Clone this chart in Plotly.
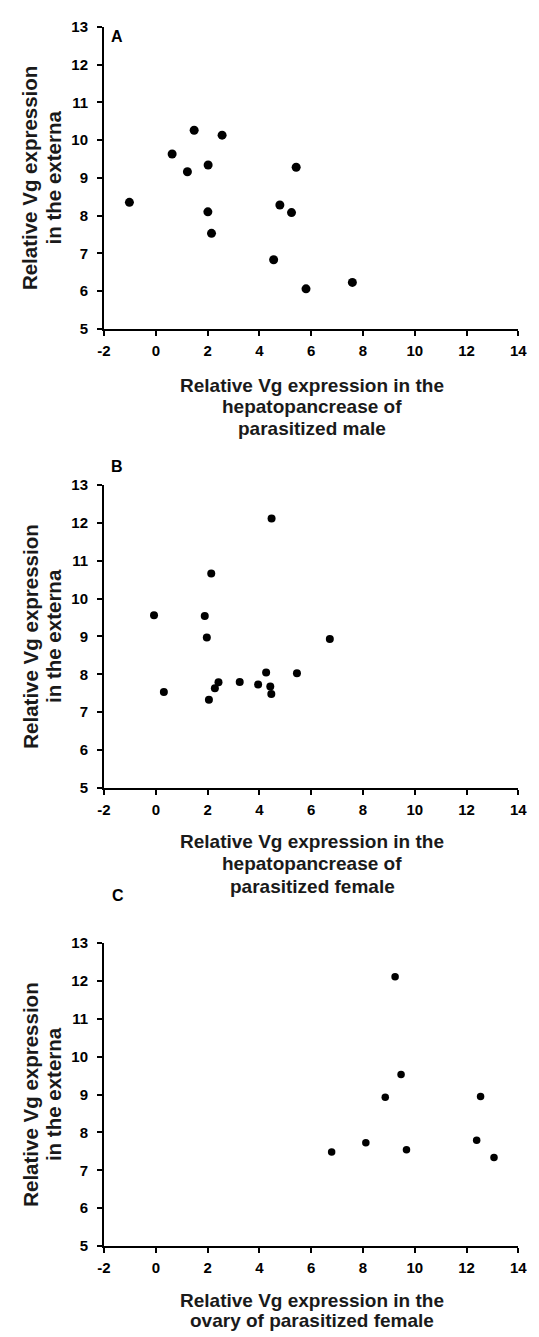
import plotly.graph_objects as go

# ---- data ----
a_hep_male = [-1.02, 0.63, 1.22, 1.48, 2.02, 2.56, 2.01, 2.15, 4.55, 4.79, 5.24, 5.42, 5.80, 7.59]
a_ext_male = [8.35, 9.63, 9.16, 10.26, 9.34, 10.13, 8.10, 7.53, 6.83, 8.28, 8.08, 9.28, 6.06, 6.23]

b_hep_female = [-0.07, 0.31, 1.89, 1.97, 2.14, 2.05, 2.28, 2.42, 3.24, 3.95, 4.26, 4.42, 4.47, 4.46, 5.45, 6.72]
b_ext_female = [9.56, 7.53, 9.54, 8.97, 10.66, 7.33, 7.63, 7.79, 7.80, 7.73, 8.05, 7.68, 12.11, 7.48, 8.03, 8.93]

c_ovary_female = [6.79, 8.11, 8.86, 9.24, 9.47, 9.68, 12.39, 12.54, 13.06]
c_ext_female = [7.48, 7.73, 8.93, 12.11, 9.53, 7.54, 7.79, 8.95, 7.34]

x_ticks = [-2, 0, 2, 4, 6, 8, 10, 12, 14]
x_tick_labels = ["-2", "0", "2", "4", "6", "8", "10", "12", "14"]
y_ticks = [5, 6, 7, 8, 9, 10, 11, 12, 13]
y_tick_labels = ["5", "6", "7", "8", "9", "10", "11", "12", "13"]

panel_letters = ["A", "B", "C"]
y_title_lines = ["Relative Vg expression", "in the externa"]
x_title_lines = [
    ["Relative Vg expression in the", "hepatopancrease of", "parasitized male"],
    ["Relative Vg expression in the", "hepatopancrease of", "parasitized female"],
    ["Relative Vg expression in the", "ovary of parasitized female"],
]

W, H = 539, 1337
FONT = "Liberation Sans"

# pixel layout of each panel's plotting area: (top, bottom)
x_left, x_right = 100, 527
panels_px = [(18, 324), (482, 789), (946, 1253)]
marker_sizes = [9, 8, 7.5]
letter_pos = [(113, 28), (113, 463), (114, 898)]
xtitle_y = [[381, 403, 425], [843, 866, 889], [1308, 1328]]

def py(p):
    return 1 - p / H

def px(p):
    return p / W

fig = go.Figure()
datasets = [(a_hep_male, a_ext_male), (b_hep_female, b_ext_female), (c_ovary_female, c_ext_female)]

layout_axes = {}
annotations = []
for i, ((xs, ys), (top, bot)) in enumerate(zip(datasets, panels_px)):
    n = "" if i == 0 else str(i + 1)
    fig.add_trace(go.Scatter(
        x=xs, y=ys, mode="markers",
        marker=dict(color="black", size=marker_sizes[i], line=dict(width=0)),
        xaxis="x" + n, yaxis="y" + n, showlegend=False, cliponaxis=False,
    ))
    layout_axes["xaxis" + n] = dict(
        domain=[px(x_left), px(x_right)], range=[-2, 14], anchor="y" + n,
        tickmode="array", tickvals=x_ticks, ticktext=x_tick_labels,
        showgrid=False, zeroline=False, showline=True, linecolor="black", linewidth=2,
        ticks="outside", ticklen=5, tickwidth=1.5, tickcolor="black",
        tickfont=dict(family=FONT, size=15, color="black", weight="bold"),
        ticklabelstandoff=2, fixedrange=True,
    )
    layout_axes["yaxis" + n] = dict(
        domain=[py(bot), py(top)], range=[5, 13], anchor="x" + n,
        tickmode="array", tickvals=y_ticks, ticktext=y_tick_labels,
        showgrid=False, zeroline=False, showline=True, linecolor="black", linewidth=2,
        ticks="outside", ticklen=5, tickwidth=1.5, tickcolor="black",
        tickfont=dict(family=FONT, size=15, color="black", weight="bold"),
        ticklabelstandoff=6, fixedrange=True,
    )
    cy = (top + bot) / 2
    for line, xx in zip(y_title_lines, [24, 48]):
        annotations.append(dict(
            text=line, textangle=-90, x=px(xx), y=py(cy), xref="paper", yref="paper",
            xanchor="center", yanchor="middle", showarrow=False,
            font=dict(family=FONT, size=20.5, color="#1a1a1a", weight="bold"),
        ))
    for line, yy in zip(x_title_lines[i], xtitle_y[i]):
        annotations.append(dict(
            text=line, x=px((x_left + x_right) / 2 + 1), y=py(yy), xref="paper", yref="paper",
            xanchor="center", yanchor="middle", showarrow=False,
            font=dict(family=FONT, size=19, color="#1a1a1a", weight="bold"),
        ))
    lx, ly = letter_pos[i]
    annotations.append(dict(
        text=panel_letters[i], x=px(lx), y=py(ly), xref="paper", yref="paper",
        xanchor="center", yanchor="middle", showarrow=False,
        font=dict(family=FONT, size=16, color="black", weight="bold"),
    ))

fig.update_layout(
    width=W, height=H, margin=dict(l=0, r=0, t=0, b=0),
    paper_bgcolor="white", plot_bgcolor="white",
    annotations=annotations, **layout_axes,
)

fig.write_html("out.html", config={"displayModeBar": False})
